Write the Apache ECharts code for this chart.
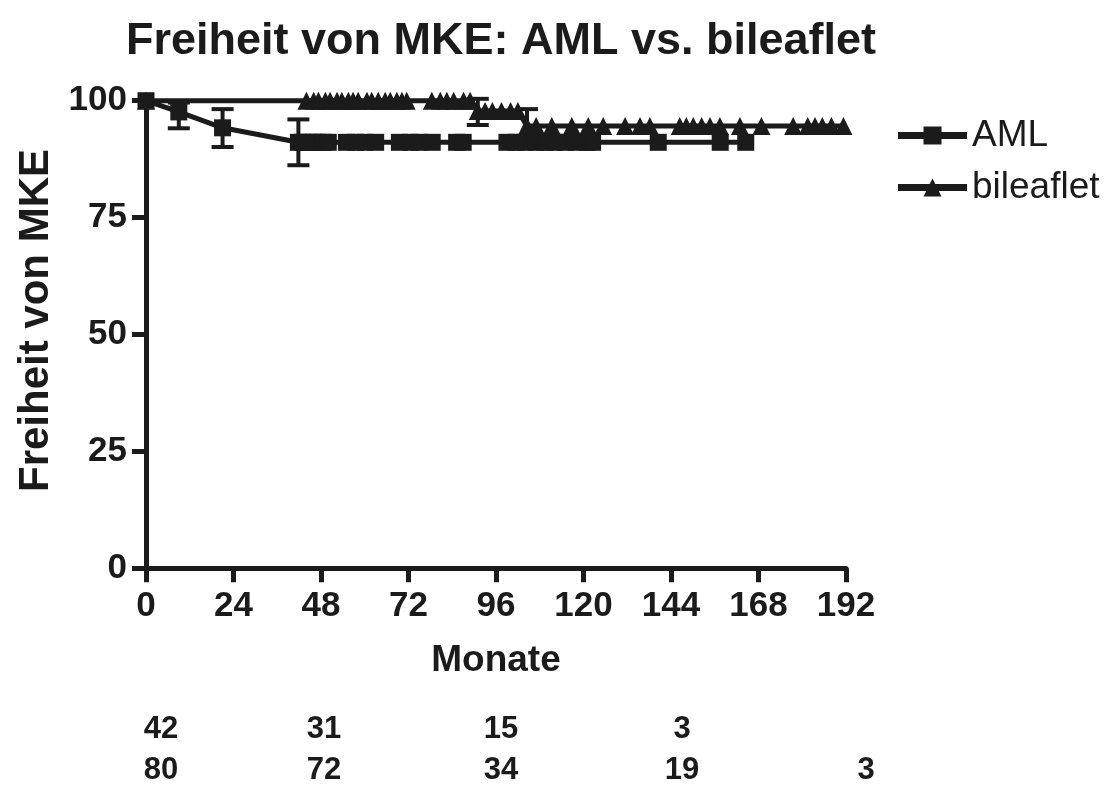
<!DOCTYPE html>
<html>
<head>
<meta charset="utf-8">
<title>Freiheit von MKE: AML vs. bileaflet</title>
<script src="https://cdn.jsdelivr.net/npm/echarts@6/dist/echarts.min.js"></script>
<style>
  html, body { margin: 0; padding: 0; background: #ffffff; }
  #chart { width: 1109px; height: 787px; }
</style>
</head>
<body>
<div id="chart"></div>
<script>
// Kaplan-Meier freedom from MKE, months of follow-up
const xTicks = [0, 24, 48, 72, 96, 120, 144, 168, 192];
const yTicks = [0, 25, 50, 75, 100];

// AML: events and censored patients (months, % event-free)
const amlMonths = [0, 9, 21, 41.8, 43, 44.5, 46, 47, 48.5, 50, 55, 57.5, 60, 63, 69.5, 72.5, 75, 78.5,
  85.2, 87, 99, 101.5, 104, 107, 109.5, 112, 115, 118, 121, 122.5, 140.5, 157.5, 164.5];
const amlSurvival = [100, 97.6, 94.2, 91.1, 91.1, 91.1, 91.1, 91.1, 91.1, 91.1, 91.1, 91.1, 91.1, 91.1,
  91.1, 91.1, 91.1, 91.1, 91.1, 91.1, 91.1, 91.1, 91.1, 91.1, 91.1, 91.1, 91.1, 91.1, 91.1, 91.1, 91.1,
  91.1, 91.1];
// AML standard-error bars at event times
const amlErrMonths = [9, 21, 41.8];
const amlErrLow = [94.1, 90.1, 86.2];
const amlErrHigh = [99.6, 98.2, 96.0];

// bileaflet: events and censored patients
const bilMonths = [0, 44, 46, 47.3, 49.2, 50.5, 52.4, 53.7, 55.5, 56.8, 58.2, 60.6, 61.9, 63.7, 65.6, 67,
  68.8, 70.2, 71.5, 78.4, 80.7, 82.5, 84.4, 87.1, 88.9, 91, 93, 95, 97.5, 100, 102, 104.5, 107, 111.3,
  116.8, 121.3, 125.4, 131.4, 135.5, 138.2, 146.4, 148.2, 150.1, 152.4, 154.7, 157.4, 162.9, 168.8,
  177.5, 181.5, 183.5, 185.5, 188, 191.3];
const bilSurvival = [100, 100, 100, 100, 100, 100, 100, 100, 100, 100, 100, 100, 100, 100, 100, 100,
  100, 100, 100, 100, 100, 100, 100, 100, 100, 97.8, 97.8, 97.8, 97.8, 97.8, 97.8, 94.6, 94.6, 94.6,
  94.6, 94.6, 94.6, 94.6, 94.6, 94.6, 94.6, 94.6, 94.6, 94.6, 94.6, 94.6, 94.6, 94.6,
  94.6, 94.6, 94.6, 94.6, 94.6, 94.6];
const bilErrMonths = [91, 104.5];
const bilErrLow = [94.8, 91.0];
const bilErrHigh = [100.4, 98.2];

// numbers at risk below the axis
const riskMonths = [0, 48, 96, 144, 192];
const riskAML = [42, 31, 15, 3, null];
const riskBileaflet = [80, 72, 34, 19, 3];

const INK = '#1b1b1b';
const FONT = '"Liberation Sans", Arial, Helvetica, sans-serif';

// legend icons: thick line segment with the group's marker in the middle
const ICON_AML = 'path://M0 5.5H69V12.5H0Z M25.5 0H43.5V18H25.5Z';
const ICON_BIL = 'path://M0 5.5H69V12.5H0Z M34.5 0L43.5 18H25.5Z';

const zip = (xs, ys) => xs.map((x, i) => [x, ys[i]]);
const zip3 = (xs, lo, hi) => xs.map((x, i) => [x, lo[i], hi[i]]);

function errorBars(params, api) {
  const lo = api.coord([api.value(0), api.value(1)]);
  const hi = api.coord([api.value(0), api.value(2)]);
  const hw = 11;
  const st = { stroke: INK, lineWidth: 4 };
  return {
    type: 'group',
    children: [
      { type: 'line', shape: { x1: lo[0], y1: hi[1], x2: lo[0], y2: lo[1] }, style: st },
      { type: 'line', shape: { x1: lo[0] - hw, y1: hi[1], x2: lo[0] + hw, y2: hi[1] }, style: st },
      { type: 'line', shape: { x1: lo[0] - hw, y1: lo[1], x2: lo[0] + hw, y2: lo[1] }, style: st }
    ]
  };
}

const chart = echarts.init(document.getElementById('chart'), null, { renderer: 'canvas' });

const option = {
  backgroundColor: '#ffffff',
  animation: false,
  title: {
    text: 'Freiheit von MKE: AML vs. bileaflet',
    left: 496, top: 14, textAlign: 'center',
    textStyle: { fontFamily: FONT, fontWeight: 'bold', fontSize: 45, color: INK }
  },
  legend: {
    orient: 'vertical', left: 893, top: 112,
    itemWidth: 69, itemHeight: 18, itemGap: 15,
    symbolKeepAspect: false,
    textStyle: { fontFamily: FONT, fontSize: 37, color: INK },
    itemStyle: { color: INK, borderWidth: 0 },
    data: [
      { name: 'AML', icon: ICON_AML },
      { name: 'bileaflet', icon: ICON_BIL }
    ]
  },
  grid: { left: 146, right: 263, top: 100.7, bottom: 218.7, containLabel: false },
  xAxis: {
    type: 'value', min: 0, max: 192, interval: 24,
    name: 'Monate', nameLocation: 'middle', nameGap: 74,
    nameTextStyle: { fontFamily: FONT, fontWeight: 'bold', fontSize: 37, color: INK },
    axisLine: { lineStyle: { color: INK, width: 5 } },
    axisTick: { length: 14, lineStyle: { color: INK, width: 5 } },
    axisLabel: { fontFamily: FONT, fontWeight: 'bold', fontSize: 35, color: INK, margin: 21,
      formatter: v => (xTicks.includes(v) ? String(v) : '') },
    splitLine: { show: false }
  },
  yAxis: {
    type: 'value', min: 0, max: 100, interval: 25,
    name: 'Freiheit von MKE', nameLocation: 'middle', nameGap: 88, nameRotate: 90,
    nameTextStyle: { fontFamily: FONT, fontWeight: 'bold', fontSize: 42, color: INK, padding: [0, 0, 0, 28] },
    axisLine: { show: true, lineStyle: { color: INK, width: 5 } },
    axisTick: { show: true, length: 14, lineStyle: { color: INK, width: 5 } },
    axisLabel: { fontFamily: FONT, fontWeight: 'bold', fontSize: 35, color: INK, margin: 19,
      formatter: v => (yTicks.includes(v) ? String(v) : '') },
    splitLine: { show: false }
  },
  series: [
    {
      name: 'AML', type: 'line', data: zip(amlMonths, amlSurvival),
      symbol: 'rect', symbolSize: 17, showAllSymbol: true, clip: false,
      lineStyle: { color: INK, width: 5 }, itemStyle: { color: INK }, z: 3
    },
    {
      name: 'bileaflet', type: 'line', data: zip(bilMonths, bilSurvival),
      symbol: 'triangle', symbolSize: 18, showAllSymbol: true, clip: false,
      lineStyle: { color: INK, width: 5 }, itemStyle: { color: INK }, z: 3
    },
    {
      type: 'custom', renderItem: errorBars, data: zip3(amlErrMonths, amlErrLow, amlErrHigh),
      clip: false, silent: true, z: 2
    },
    {
      type: 'custom', renderItem: errorBars, data: zip3(bilErrMonths, bilErrLow, bilErrHigh),
      clip: false, silent: true, z: 2
    }
  ]
};

chart.setOption(option);

// numbers at risk, one row per group, placed under the month ticks
const riskNudge = [15, 3, 5, 11, 20];
const riskRowsY = [729, 770];
const riskTexts = [];
[riskAML, riskBileaflet].forEach((row, r) => {
  row.forEach((n, i) => {
    if (n === null) return;
    const x = chart.convertToPixel({ xAxisIndex: 0 }, riskMonths[i]) + riskNudge[i];
    riskTexts.push({
      type: 'text', x: x, y: riskRowsY[r],
      style: { text: String(n), fill: INK, font: 'bold 31px ' + FONT, align: 'center', verticalAlign: 'middle' }
    });
  });
});
chart.setOption({ graphic: riskTexts });
</script>
</body>
</html>
